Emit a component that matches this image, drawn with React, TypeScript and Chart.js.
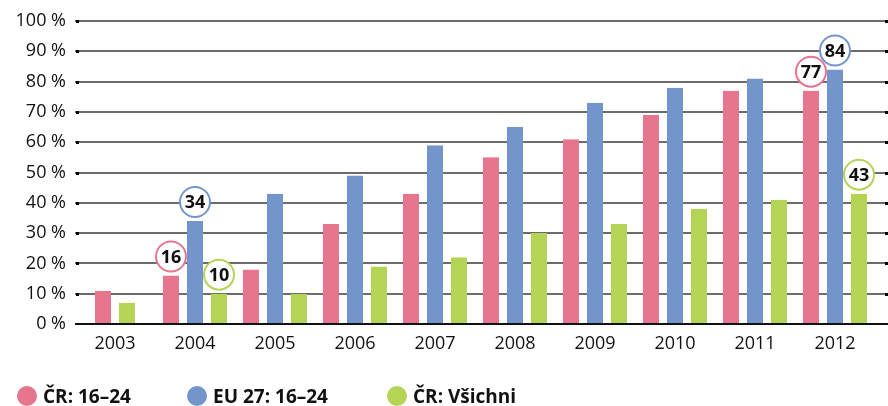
import React, { useEffect, useRef } from "react";
import { Chart, registerables } from "chart.js";

Chart.register(...registerables);

const years = ["2003", "2004", "2005", "2006", "2007", "2008", "2009", "2010", "2011", "2012"];
const crYoung = [11, 16, 18, 33, 43, 55, 61, 69, 77, 77];
const eu27Young = [null, 34, 43, 49, 59, 65, 73, 78, 81, 84];
const crAll = [7, 10, 10, 19, 22, 30, 33, 38, 41, 43];
const yTicks = [0, 10, 20, 30, 40, 50, 60, 70, 80, 90, 100];
const seriesNames = ["ČR: 16–24", "EU 27: 16–24", "ČR: Všichni"];
const seriesColors = ["#E6758D", "#7494CC", "#B4D456"];
const highlightedYears = ["2004", "2012"];

const FONT = "'Open Sans', 'Noto Sans', sans-serif";

export default function App() {
  const ref = useRef<HTMLCanvasElement | null>(null);

  useEffect(() => {
    if (!ref.current) return;

    const gridPlugin = {
      id: "extGrid",
      beforeDatasetsDraw(chart: any) {
        const ctx = chart.ctx;
        const y = chart.scales.y;
        const area = chart.chartArea;
        const right = chart.width;
        ctx.save();
        yTicks.forEach((v) => {
          const py = Math.round(y.getPixelForValue(v));
          if (v === 0) return;
          ctx.strokeStyle = "#3a3a3a";
          ctx.lineWidth = 1.3;
          ctx.beginPath();
          ctx.moveTo(area.left, py);
          ctx.lineTo(right, py);
          ctx.stroke();
          ctx.fillStyle = "#000";
          ctx.fillRect(area.left + 1, py - 1, 3, 3);
          ctx.fillRect(right - 3, py - 1, 3, 3);
        });
        ctx.restore();
      },
      afterDatasetsDraw(chart: any) {
        const ctx = chart.ctx;
        const y = chart.scales.y;
        const area = chart.chartArea;
        const py = Math.round(y.getPixelForValue(0));
        ctx.save();
        ctx.strokeStyle = "#111";
        ctx.lineWidth = 2;
        ctx.beginPath();
        ctx.moveTo(area.left, py);
        ctx.lineTo(chart.width, py);
        ctx.stroke();

        // value bubbles
        chart.data.datasets.forEach((ds: any, di: number) => {
          const meta = chart.getDatasetMeta(di);
          highlightedYears.forEach((yr) => {
            const idx = years.indexOf(yr);
            const v = ds.data[idx];
            if (v == null) return;
            const el = meta.data[idx];
            const cx = el.x;
            const cy = el.y - 19;
            ctx.beginPath();
            ctx.arc(cx, cy, 15, 0, Math.PI * 2);
            ctx.fillStyle = "#fff";
            ctx.fill();
            ctx.lineWidth = 2;
            ctx.strokeStyle = seriesColors[di];
            ctx.stroke();
            ctx.fillStyle = "#111";
            ctx.font = "bold 18px " + FONT;
            ctx.textAlign = "center";
            ctx.textBaseline = "middle";
            ctx.fillText(String(v), cx, cy + 1);
          });
        });
        ctx.restore();
      },
    };

    const chart = new Chart(ref.current, {
      type: "bar",
      data: {
        labels: years,
        datasets: seriesNames.map((name, i) => ({
          label: name,
          data: [crYoung, eu27Young, crAll][i] as any,
          backgroundColor: seriesColors[i],
          borderColor: "rgba(0,0,0,0)",
          borderWidth: { left: 4, right: 4, top: 0, bottom: 0 },
          borderSkipped: false,
          inflateAmount: 0,
          barThickness: 24,
          skipNull: true,
        })),
      },
      options: {
        responsive: false,
        animation: false,
        layout: { padding: { top: 21, right: 13, bottom: 48, left: 0 } },
        plugins: {
          legend: { display: false },
          tooltip: { enabled: false },
        },
        scales: {
          x: {
            grid: { display: false, drawTicks: false },
            border: { display: false },
            ticks: {
              color: "#111",
              font: { family: FONT, size: 18 },
              padding: 9,
              maxRotation: 0,
            },
            afterFit(scale: any) {
              scale.height = 34;
            },
          },
          y: {
            min: 0,
            max: 100,
            grid: { display: false, drawTicks: false },
            border: { display: false },
            ticks: {
              stepSize: 10,
              color: "#111",
              font: { family: FONT, size: 18 },
              padding: 9,
              callback: (v: any) => v + " %",
            },
            afterFit(scale: any) {
              scale.width = 75;
            },
          },
        },
      },
      plugins: [gridPlugin],
    });
    return () => chart.destroy();
  }, []);

  const legendX = [17, 187, 387];

  return (
    <div style={{ position: "fixed", left: 0, top: 0, width: 888, height: 406, background: "#fff" }}>
      <canvas ref={ref} width={888} height={406} style={{ width: 888, height: 406, display: "block" }} />
      {seriesNames.map((name, i) => (
        <div
          key={name}
          style={{
            position: "absolute",
            left: legendX[i],
            top: 386,
            height: 20,
            display: "flex",
            alignItems: "center",
            fontFamily: FONT,
            fontWeight: 700,
            fontSize: 19,
            color: "#111",
            whiteSpace: "nowrap",
          }}
        >
          <span
            style={{
              display: "inline-block",
              width: 20,
              height: 20,
              borderRadius: 10,
              background: seriesColors[i],
              marginRight: 6,
            }}
          />
          <span>{name}</span>
        </div>
      ))}
    </div>
  );
}
